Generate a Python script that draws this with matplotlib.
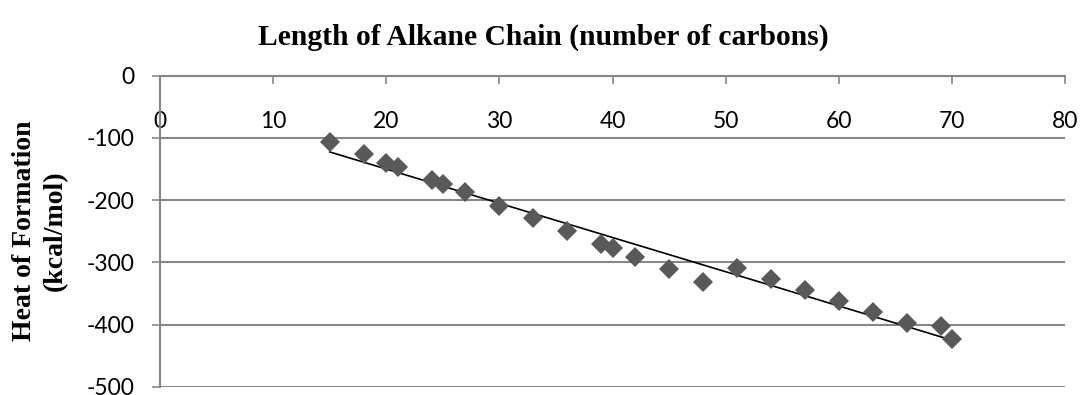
import matplotlib
matplotlib.use("Agg")
import matplotlib.pyplot as plt
import numpy as np

# Data
carbons = [15, 18, 20, 21, 24, 25, 27, 30, 33, 36, 39, 40, 42, 45, 48,
           51, 54, 57, 60, 63, 66, 69, 70]
heat = [-106, -126, -140, -147, -168, -174, -187, -210, -229, -249, -271, -277,
        -291, -311, -331, -309, -327, -345, -362, -380, -398, -403, -423]
x_ticks = [0, 10, 20, 30, 40, 50, 60, 70, 80]
y_ticks = [0, -100, -200, -300, -400, -500]

title = "Length of Alkane Chain (number of carbons)"
ylabel = "Heat of Formation\n(kcal/mol)"

grid_col = "#878787"
marker_col = "#595959"

fig = plt.figure(figsize=(10.81, 3.95), dpi=100)
ax = fig.add_axes([160 / 1081, 1 - 386.7 / 395, (1065 - 160) / 1081, (386.7 - 75.7) / 395])

ax.set_xlim(0, 80)
ax.set_ylim(-500, 0)

# linear trend line
coef = np.polyfit(carbons, heat, 1)
xs = np.array([min(carbons), max(carbons)])
ax.plot(xs, np.polyval(coef, xs), color="black", lw=1.2, zorder=3)

ax.plot(carbons, heat, linestyle="none", marker="D", ms=9.7,
        color=marker_col, markeredgewidth=0, zorder=4)

ax.set_xticks(x_ticks)
ax.set_yticks(y_ticks)
ax.set_xticklabels([str(v) for v in x_ticks])
ax.set_yticklabels([str(v) for v in y_ticks])

ax.grid(axis="y", color=grid_col, lw=1.5, zorder=0)
ax.set_axisbelow(True)

for s in ["top", "right"]:
    ax.spines[s].set_visible(False)
ax.spines["bottom"].set_position(("data", 0))
ax.spines["bottom"].set_color(grid_col)
ax.spines["left"].set_color(grid_col)
ax.spines["bottom"].set_linewidth(1.5)
ax.spines["left"].set_linewidth(1.5)

ax.tick_params(axis="x", direction="out", length=5.5, width=1.2, color=grid_col,
               pad=20, labelsize=16.5)
ax.tick_params(axis="y", direction="out", length=6, width=1.2, color=grid_col,
               pad=12, labelsize=16.5)
for lab in ax.get_xticklabels() + ax.get_yticklabels():
    lab.set_fontfamily("Lato")

fig.text(543 / 1081, 1 - 37 / 395, title, ha="center", va="center",
         fontfamily="Liberation Serif", fontweight="bold", fontsize=21.3)
fig.text(40 / 1081, 1 - 231 / 395, ylabel, ha="center", va="center", rotation=90,
         fontfamily="Liberation Serif", fontweight="bold", fontsize=20,
         multialignment="center", linespacing=1.3)

fig.savefig("out.png", dpi=100)
